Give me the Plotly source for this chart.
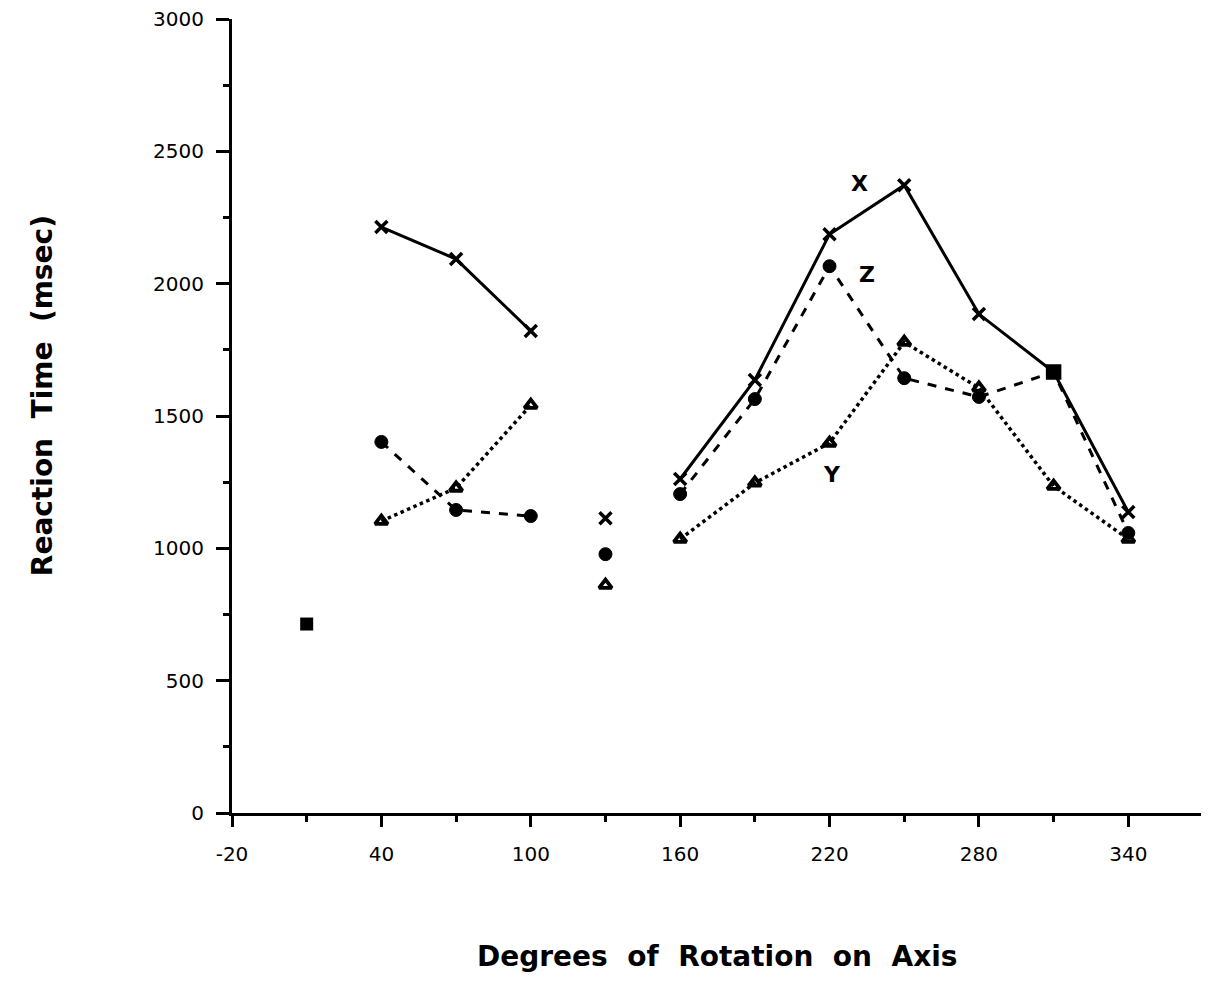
import plotly.graph_objects as go

degrees = [40, 70, 100, 130, 160, 190, 220, 250, 280, 310, 340]
x_rt = [2214, 2093, 1821, 1114, 1262, 1636, 2187, 2372, 1885, 1666, 1137]
z_rt = [1402, 1145, 1122, 978, 1205, 1564, 2066, 1643, 1572, 1666, 1058]
y_rt = [1103, 1228, 1541, 861, 1035, 1247, 1398, 1779, 1606, 1235, 1035]
baseline_deg = [10]
baseline_rt = [714]
coincident_deg = [310]
coincident_rt = [1666]
label_names = ["X", "Z", "Y"]
label_deg = [232, 235, 221]
label_rt = [2380, 2035, 1280]
xtick_vals = [-20, 40, 100, 160, 220, 280, 340]
ytick_vals = [0, 500, 1000, 1500, 2000, 2500, 3000]

# segments: 40-100 connected, 130 isolated, 160-340 connected
segments = (slice(0, 3), slice(3, 4), slice(4, 11))

fig = go.Figure()

def add_series(xs, ys, dash, symbol, size, lw, mlw, mark_coincident):
    for sl in segments:
        xx = xs[sl]
        yy = ys[sl]
        syms = [("square" if (mark_coincident and d in coincident_deg) else symbol) for d in xx]
        fig.add_trace(go.Scatter(
            x=xx, y=yy, mode="lines+markers",
            line=dict(color="black", width=lw, dash=dash),
            marker=dict(symbol=syms, size=size, color="black",
                        line=dict(color="black", width=mlw)),
            showlegend=False, cliponaxis=False))

add_series(degrees, y_rt, "dot", "triangle-up-open", 11, 3.5, 3.8, False)
add_series(degrees, z_rt, "dash", "circle", 13, 3, 1, True)
add_series(degrees, x_rt, "solid", "x-thin", 12, 3, 3.5, True)

fig.add_trace(go.Scatter(x=baseline_deg + coincident_deg, y=baseline_rt + coincident_rt,
                         mode="markers",
                         marker=dict(symbol="square", size=13, color="black"),
                         showlegend=False, cliponaxis=False))

for name, d, r in zip(label_names, label_deg, label_rt):
    fig.add_annotation(x=d, y=r, text="<b>" + name + "</b>", showarrow=False,
                       font=dict(size=22, color="black", family="DejaVu Sans"))

tickfont = dict(size=20, family="DejaVu Sans", color="black")

fig.update_layout(
    width=1209, height=987,
    margin=dict(l=224, r=14, t=11, b=182, autoexpand=False),
    plot_bgcolor="white", paper_bgcolor="white",
    font=dict(family="DejaVu Sans, Liberation Sans, sans-serif", color="black", size=20),
    xaxis=dict(range=[-20, 370], tickvals=xtick_vals, ticktext=[str(v) for v in xtick_vals],
               showgrid=False, zeroline=False, showline=True, linecolor="black", linewidth=3,
               ticks="outside", ticklen=11, tickwidth=3, tickcolor="black",
               minor=dict(tickvals=[10, 70, 130, 190, 250, 310, 370], ticks="outside",
                          ticklen=6, tickwidth=3, tickcolor="black"),
               tickfont=tickfont, ticklabelstandoff=10, ticklabeloverflow="allow",
               automargin=False),
    yaxis=dict(range=[0, 3000], tickvals=ytick_vals,
               showgrid=False, zeroline=False, showline=True, linecolor="black", linewidth=3,
               ticks="outside", ticklen=13, tickwidth=3, tickcolor="black",
               minor=dict(tickvals=[250, 750, 1250, 1750, 2250, 2750], ticks="outside",
                          ticklen=6, tickwidth=3, tickcolor="black"),
               tickfont=tickfont, ticklabelstandoff=8, ticklabeloverflow="allow",
               automargin=False),
)

fig.add_annotation(xref="paper", yref="paper", x=0.5, y=0, yshift=-143,
                   text="<b>Degrees  of  Rotation  on  Axis</b>", showarrow=False,
                   font=dict(size=28, color="black", family="DejaVu Sans"), yanchor="middle")
fig.add_annotation(xref="paper", yref="paper", x=0, xshift=-190, y=0.525,
                   text="<b>Reaction  Time  (msec)</b>", showarrow=False, textangle=-90,
                   font=dict(size=28, color="black", family="DejaVu Sans"), xanchor="center")

fig.write_html("out.html")
